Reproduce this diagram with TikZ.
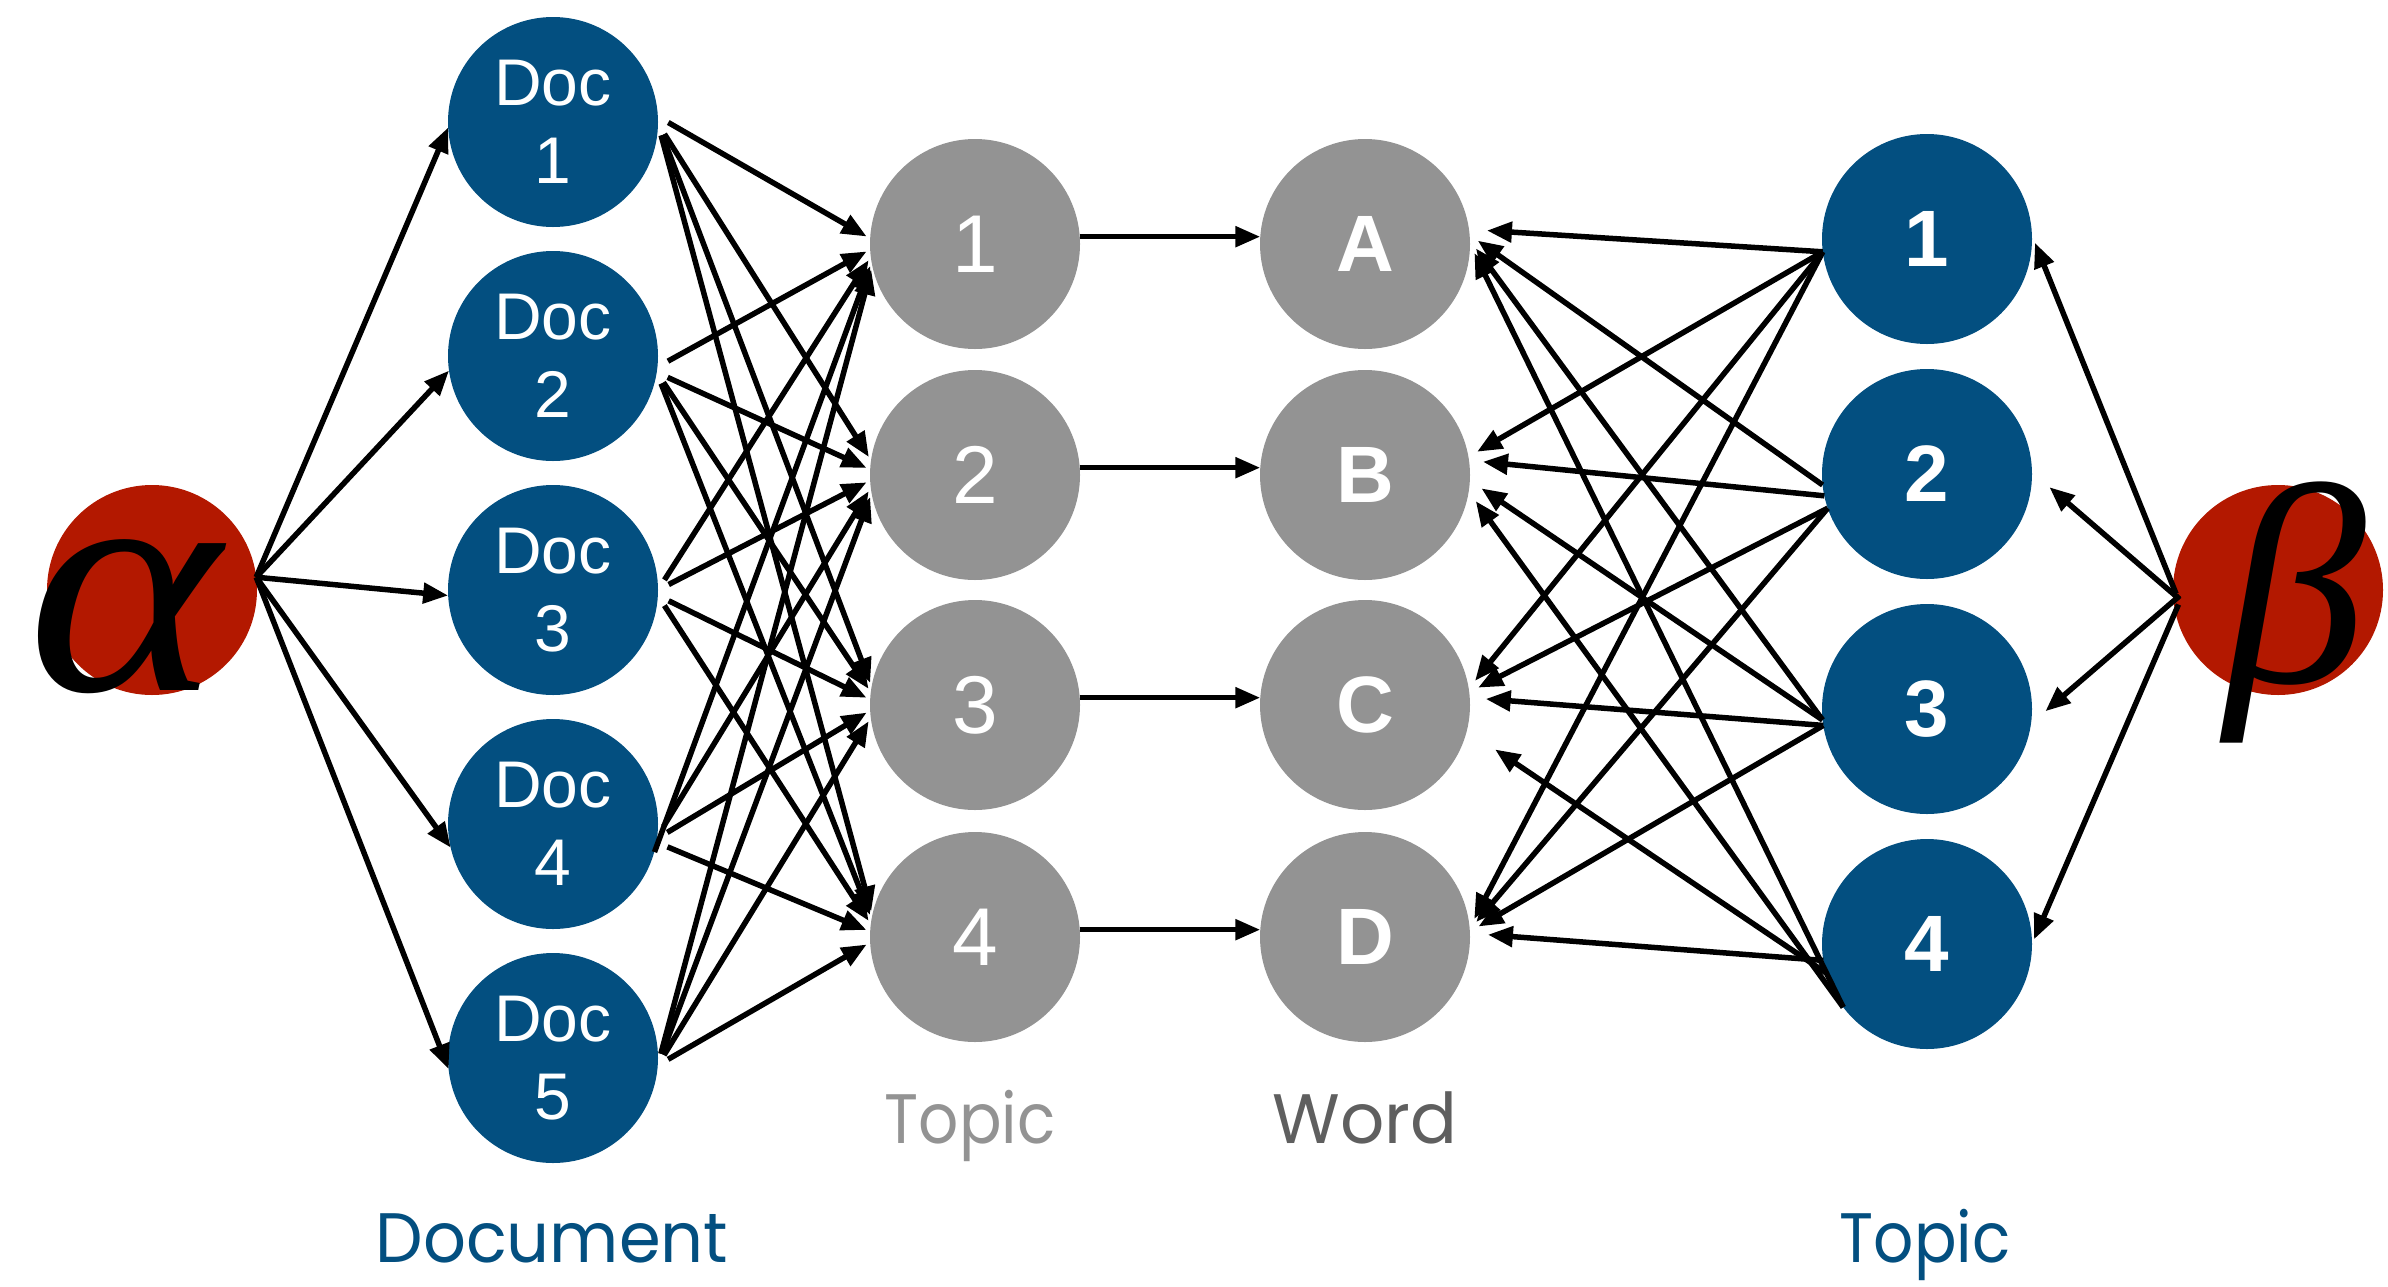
\documentclass[tikz,border=0pt]{standalone}
\usepackage{fontspec}
\setmainfont{Liberation Sans}
\newfontfamily\greekfont{Liberation Serif}
\newfontfamily\handfont{Poppins}
\usetikzlibrary{arrows.meta}

\definecolor{docblue}{HTML}{034F80}
\definecolor{nodegray}{HTML}{939393}
\definecolor{labeldark}{HTML}{5F5F5F}
\definecolor{priorred}{HTML}{B31800}

\begin{document}
\begin{tikzpicture}[x=1pt,y=-1pt,
  ball/.style={circle, minimum size=210pt, inner sep=0pt, outer sep=0pt,
    text=white, align=center},
  docball/.style={ball, fill=docblue, font=\fontsize{66}{78}\selectfont},
  grayball/.style={ball, fill=nodegray, font=\fontsize{82}{90}\selectfont},
  wordball/.style={ball, fill=nodegray, font=\bfseries\fontsize{80}{90}\selectfont},
  topball/.style={ball, fill=docblue, font=\bfseries\fontsize{80}{90}\selectfont},
  prior/.style={ball, fill=priorred},
  greek/.style={text=black, inner sep=0pt, anchor=base},
  link/.style={line width=5.5pt, -{Triangle[length=25pt,width=20pt]}},
  caption/.style={font=\handfont\fontsize{70}{74}\selectfont, anchor=base, inner sep=0pt}
]
\useasboundingbox (0,0) rectangle (2388,1286);

% hyperparameters
\node[prior] (alpha) at (152,590) {};
\node[prior] (beta) at (2278,590) {};

% documents
\foreach \i/\y in {1/122,2/356,3/590,4/824,5/1058}
  \node[docball] (d\i) at (553,\y) {Doc\\\i};

% topics, words and topic-word nodes
\foreach \i/\y in {1/244,2/475,3/705,4/937}
  \node[grayball] (t\i) at (975,\y) {\i};
\foreach \i/\w/\y in {1/A/244,2/B/475,3/C/705,4/D/937}
  \node[wordball] (w\i) at (1365,\y) {\w};
\foreach \i/\y in {1/239,2/474,3/709,4/944}
  \node[topball] (r\i) at (1927,\y) {\i};

% Greek letters drawn over the red discs
\node[greek, font=\greekfont\itshape\fontsize{320}{320}\selectfont] (alphatxt) at (124,690) {\scalebox{1.15}[1]{α}};
\node[greek, font=\greekfont\itshape\fontsize{285}{285}\selectfont] (betatxt) at (2295,682) {β};

% alpha -> documents
\foreach \i/\a in {1/183,2/188,3/183,4/193,5/186}
  \draw[link] (alpha.7) -- (d\i.\a);

% documents -> topics
\foreach \d/\s/\t/\e in {
  1/3/1/177, 1/-1/2/172, 1/-1/3/170, 1/-1/4/168,
  2/-6/1/183, 2/-9/2/177, 2/-9/3/173, 2/-9/4/170,
  3/0/1/187, 3/0/2/183, 3/-3/3/177, 3/-3/4/173,
  4/-22/1/190, 4/-7/2/187, 4/-8/3/183, 4/-10/4/177,
  5/-4/1/192, 5/-4/2/190, 5/-4/3/187, 5/-4/4/183}
  \draw[link, shorten <=12pt, shorten >=4pt] (d\d.\s) -- (t\t.\e);

% topics -> words
\foreach \i in {1,...,4}
  \draw[link] (t\i.4) -- (w\i.176);

% topic-word nodes -> words
\foreach \r/\s/\w/\e/\g in {
  1/187/1/8/18, 1/187/2/10/10, 1/187/3/9/10, 1/187/4/5/10,
  2/186/1/5/10, 2/192/2/8/14, 2/199/3/7/10, 2/199/4/4/10,
  3/186/1/2/10, 3/186/2/-3/14, 3/189/3/4/16, 3/189/4/3/10,
  4/217/1/0/10, 4/217/2/-9/12, 4/196/3/-14/34, 4/189/4/2/18}
  \draw[link, shorten >=\g pt] (r\r.\s) -- (w\w.\e);

% beta -> topic-word nodes
\foreach \i/\s/\e/\g in {1/178/2/8, 2/182/1/23, 3/186/-8/19, 4/192/0/5}
  \draw[link, shorten <=-8pt, shorten >=\g pt] (beta.\s) -- (r\i.\e);

% captions
\node[caption, text=nodegray] (captopic) at (970,1143) {\scalebox{0.9}[1]{Topic}};
\node[caption, text=labeldark] (capword) at (1365,1143) {\scalebox{0.99}[1]{Word}};
\node[caption, text=docblue] (capdoc) at (552,1262) {\scalebox{0.96}[1]{Document}};
\node[caption, text=docblue] (capright) at (1925,1262) {\scalebox{0.9}[1]{Topic}};
\end{tikzpicture}
\end{document}
